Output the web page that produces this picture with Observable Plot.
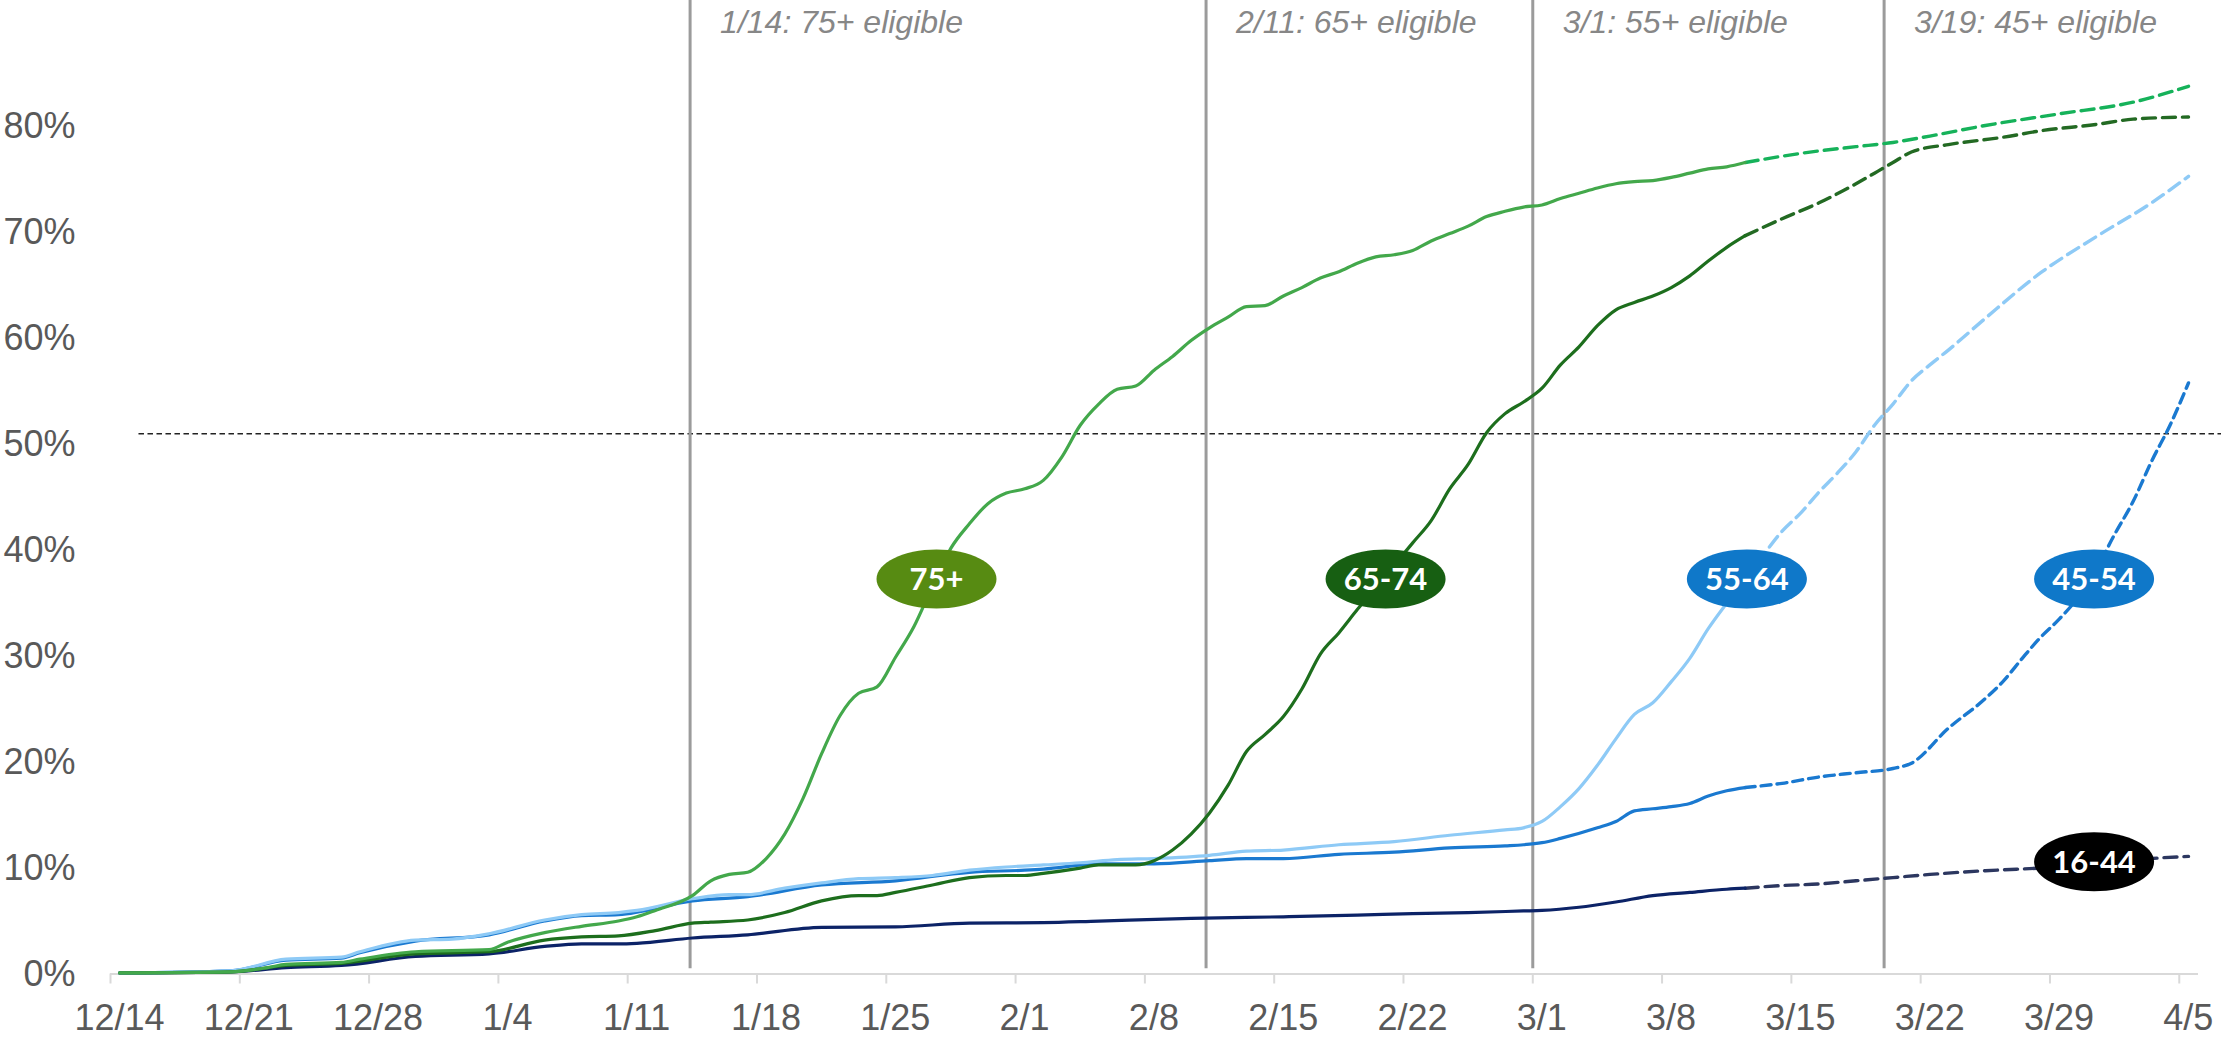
<!DOCTYPE html>
<html>
<head>
<meta charset="utf-8">
<script src="https://cdn.jsdelivr.net/npm/d3@7"></script>
<script src="https://cdn.jsdelivr.net/npm/@observablehq/plot@0.6"></script>
<style>
  html, body { margin: 0; padding: 0; background: #ffffff; }
  #chart svg { display: block; }
</style>
</head>
<body>
<div id="chart"></div>
<script>
// ---------- DATA (percent of age group with at least one dose) ----------
const xTickLabels = ["12/14","12/21","12/28","1/4","1/11","1/18","1/25","2/1","2/8","2/15","2/22","3/1","3/8","3/15","3/22","3/29","4/5"];
const yTickValues = [0, 10, 20, 30, 40, 50, 60, 70, 80];

const seriesNames  = ["75+", "65-74", "55-64", "45-54", "16-44"];

const actual75 = [["12/14",0.1],["12/20",0.2],["12/22",0.6],["12/23",0.9],["12/26",1.1],["12/27",1.4],["12/30",2.1],["1/3",2.3],["1/4",3.0],["1/6",3.9],["1/8",4.5],["1/10",5.0],["1/11",5.4],["1/12",6.0],["1/14",7.4],["1/15",8.8],["1/16",9.4],["1/17",9.6],["1/18",10.9],["1/19",13.2],["1/20",16.6],["1/21",20.8],["1/22",24.4],["1/23",26.5],["1/24",27.1],["1/25",29.9],["1/26",32.8],["1/27",36.6],["1/28",40.2],["1/29",42.5],["1/30",44.4],["1/31",45.4],["2/1",45.8],["2/2",46.6],["2/3",48.8],["2/4",51.8],["2/5",53.8],["2/6",55.2],["2/7",55.5],["2/8",57.0],["2/9",58.3],["2/10",59.8],["2/11",61.0],["2/12",62.0],["2/13",63.0],["2/14",63.1],["2/15",64.0],["2/16",64.8],["2/17",65.7],["2/18",66.3],["2/19",67.1],["2/20",67.7],["2/21",67.9],["2/22",68.3],["2/23",69.2],["2/24",69.9],["2/25",70.6],["2/26",71.5],["2/27",72.0],["2/28",72.4],["3/1",72.6],["3/2",73.2],["3/3",73.7],["3/4",74.2],["3/5",74.6],["3/6",74.8],["3/7",74.9],["3/8",75.2],["3/9",75.6],["3/10",76.0],["3/11",76.2],["3/12",76.6]];
const proj75 = [["3/12",76.6],["3/14",77.2],["3/16",77.7],["3/18",78.1],["3/20",78.5],["3/22",79.1],["3/25",80.1],["3/29",81.2],["4/2",82.3],["4/5",83.8]];

const actual65 = [["12/14",0.1],["12/20",0.2],["12/23",0.8],["12/26",1.0],["12/30",1.9],["1/3",2.1],["1/6",3.2],["1/8",3.5],["1/10",3.6],["1/12",4.1],["1/14",4.8],["1/15",4.9],["1/17",5.1],["1/19",5.8],["1/21",6.9],["1/23",7.4],["1/24",7.4],["1/25",7.7],["1/27",8.4],["1/29",9.1],["1/31",9.3],["2/1",9.3],["2/2",9.5],["2/4",10.0],["2/5",10.3],["2/7",10.3],["2/8",10.7],["2/9",11.7],["2/10",13.2],["2/11",15.2],["2/12",17.8],["2/13",21.0],["2/14",22.6],["2/15",24.3],["2/16",26.9],["2/17",30.2],["2/18",32.2],["2/19",34.4],["2/20",36.5],["2/21",38.6],["2/22",40.7],["2/23",42.8],["2/24",45.8],["2/25",48.1],["2/26",51.1],["2/27",52.9],["2/28",54.0],["3/1",55.3],["3/2",57.5],["3/3",59.2],["3/4",61.2],["3/5",62.7],["3/6",63.4],["3/7",64.0],["3/8",64.8],["3/9",65.9],["3/10",67.3],["3/11",68.6],["3/12",69.7]];
const proj65 = [["3/12",69.7],["3/14",71.3],["3/16",72.8],["3/18",74.6],["3/19",75.6],["3/20",76.6],["3/21",77.6],["3/23",78.3],["3/26",79.0],["3/28",79.6],["3/31",80.2],["4/2",80.7],["4/5",80.9]];

const actual55 = [["12/14",0.1],["12/20",0.3],["12/23",1.4],["12/26",1.6],["12/27",2.1],["12/30",3.2],["1/1",3.3],["1/3",3.8],["1/6",5.1],["1/8",5.6],["1/10",5.8],["1/11",6.0],["1/14",7.1],["1/16",7.5],["1/17",7.5],["1/19",8.1],["1/21",8.6],["1/23",9.0],["1/25",9.1],["1/27",9.3],["1/29",9.8],["1/31",10.1],["2/2",10.3],["2/4",10.5],["2/6",10.8],["2/8",10.9],["2/11",11.2],["2/13",11.6],["2/15",11.7],["2/18",12.2],["2/21",12.5],["2/24",13.1],["2/27",13.6],["2/28",13.8],["3/1",14.4],["3/2",15.8],["3/3",17.5],["3/4",19.7],["3/5",22.2],["3/6",24.5],["3/7",25.6],["3/8",27.6],["3/9",29.8],["3/10",32.6],["3/11",35.0],["3/12",37.3]];
const proj55 = [["3/12",37.3],["3/13",39.6],["3/14",41.8],["3/15",43.5],["3/16",45.5],["3/17",47.3],["3/18",49.3],["3/19",51.8],["3/20",53.8],["3/21",56.0],["3/22",57.5],["3/23",58.9],["3/25",61.9],["3/28",66.2],["3/31",69.6],["4/3",72.8],["4/5",75.3]];

const actual45 = [["12/14",0.1],["12/20",0.3],["12/23",1.3],["12/26",1.5],["12/27",2.0],["12/30",3.1],["1/3",3.7],["1/6",5.0],["1/8",5.5],["1/10",5.6],["1/14",6.9],["1/17",7.3],["1/21",8.4],["1/25",8.8],["1/29",9.6],["2/1",9.8],["2/2",9.9],["2/5",10.4],["2/8",10.4],["2/11",10.7],["2/13",10.9],["2/15",10.9],["2/18",11.3],["2/21",11.5],["2/24",11.9],["2/27",12.1],["2/28",12.2],["3/1",12.4],["3/2",12.8],["3/4",13.8],["3/5",14.4],["3/6",15.4],["3/7",15.6],["3/8",15.8],["3/9",16.1],["3/10",16.8],["3/11",17.3],["3/12",17.6]];
const proj45 = [["3/12",17.6],["3/14",18.0],["3/16",18.6],["3/18",19.0],["3/20",19.4],["3/21",19.9],["3/23",23.2],["3/25",26.0],["3/26",27.7],["3/27",29.8],["3/28",31.8],["3/29",33.5],["3/30",35.5],["3/31",38.2],["4/1",41.5],["4/2",44.6],["4/3",48.4],["4/4",51.8],["4/5",55.8]];

const actual16 = [["12/14",0.1],["12/20",0.2],["12/23",0.6],["12/26",0.8],["12/30",1.65],["1/3",1.9],["1/6",2.6],["1/8",2.85],["1/10",2.85],["1/11",2.9],["1/14",3.4],["1/17",3.7],["1/21",4.4],["1/25",4.45],["1/29",4.8],["2/2",4.85],["2/5",5.0],["2/10",5.25],["2/15",5.4],["2/19",5.55],["2/22",5.7],["2/25",5.8],["2/28",5.95],["3/1",6.0],["3/3",6.3],["3/5",6.8],["3/7",7.4],["3/9",7.7],["3/11",8.0],["3/12",8.1]];
const proj16 = [["3/12",8.1],["3/14",8.35],["3/16",8.5],["3/18",8.8],["3/20",9.1],["3/22",9.4],["3/25",9.75],["3/28",10.0],["3/31",10.3],["4/3",10.9],["4/5",11.1]];

// eligibility milestones (line positions as drawn in the picture)
const eventLabels    = ["1/14: 75+ eligible", "2/11: 65+ eligible", "3/1: 55+ eligible", "3/19: 45+ eligible"];
const eventLineTimes = ["2021-01-14T09:05Z", "2021-02-11T07:30Z", "2021-03-01T00:00Z", "2021-03-20T00:30Z"];

// reference line
const thresholdValue = 51;
const thresholdStart = "2020-12-15T13:00Z";

// series labels (ellipse badges)
const badgeTimes  = ["2021-01-27T17:15Z", "2021-02-21T00:45Z", "2021-03-12T14:10Z", "2021-03-31T09:20Z", "2021-03-31T09:20Z"];
const badgeValues = [37.3, 37.3, 37.3, 37.3, 10.6];

// ---------- STYLE ----------
const lineColors = {"75+": "#43a84b", "65-74": "#1d6e1d", "55-64": "#8ecaf6", "45-54": "#1a79d0", "16-44": "#0c2367"};
const projColors = {"75+": "#16b25a", "65-74": "#236a23", "55-64": "#8ecaf6", "45-54": "#1a79d0", "16-44": "#2c3760"};
const badgeColors = {"75+": "#578b12", "65-74": "#175f12", "55-64": "#0f78c9", "45-54": "#0f78c9", "16-44": "#000000"};

// ---------- BUILD ----------
const parseMD = s => { const [m, d] = s.split("/").map(Number); return new Date(Date.UTC(m === 12 ? 2020 : 2021, m - 1, d)); };
const HALF_DAY = 12 * 3600 * 1000;
const toRows = (pairs, series) => pairs.map(([md, v]) => ({date: parseMD(md), value: v, series}));
const px = d => new Date(+d.date + HALF_DAY); // points sit in the middle of their day

const actualSets = {"75+": actual75, "65-74": actual65, "55-64": actual55, "45-54": actual45, "16-44": actual16};
const projSets   = {"75+": proj75,   "65-74": proj65,   "55-64": proj55,   "45-54": proj45,   "16-44": proj16};

const drawOrder = ["16-44", "45-54", "55-64", "65-74", "75+"];
const lineMarks = [];
for (const s of drawOrder) {
  lineMarks.push(Plot.line(toRows(projSets[s], s), {
    x: px, y: "value", stroke: projColors[s], strokeWidth: 3.4,
    strokeDasharray: s === "45-54" ? "10,6" : "13,7", curve: "monotone-x"
  }));
  lineMarks.push(Plot.line(toRows(actualSets[s], s), {
    x: px, y: "value", stroke: lineColors[s], strokeWidth: 3.2, curve: "monotone-x"
  }));
}

const events = eventLabels.map((label, i) => ({label, t: new Date(eventLineTimes[i])}));
const badges = seriesNames.map((name, i) => ({name, t: new Date(badgeTimes[i]), v: badgeValues[i], color: badgeColors[name]}));

const ellipse = {
  draw(ctx) {
    const rx = 60, ry = 29.5, k = 0.5523;
    ctx.moveTo(rx, 0);
    ctx.bezierCurveTo(rx, ry * k, rx * k, ry, 0, ry);
    ctx.bezierCurveTo(-rx * k, ry, -rx, ry * k, -rx, 0);
    ctx.bezierCurveTo(-rx, -ry * k, -rx * k, -ry, 0, -ry);
    ctx.bezierCurveTo(rx * k, -ry, rx, -ry * k, rx, 0);
    ctx.closePath();
  }
};

const xTicks = xTickLabels.map(parseMD);
const fmtMD = d => `${d.getUTCMonth() + 1}/${d.getUTCDate()}`;
const yTop = 91.9;

const chart = Plot.plot({
  width: 2221,
  height: 1038,
  marginLeft: 110,
  marginRight: 23,
  marginTop: 0,
  marginBottom: 64.5,
  style: {background: "#ffffff", fontFamily: "'Liberation Sans', Arial, sans-serif", overflow: "hidden"},
  x: {type: "utc", label: null, domain: [new Date(Date.UTC(2020, 11, 14)), new Date(Date.UTC(2021, 3, 6, 1))]},
  y: {label: null, domain: [0, yTop]},
  marks: [
    // y axis labels
    Plot.axisY({ticks: yTickValues, tickSize: 0, tickPadding: 35, tickFormat: d => d + "%", fontSize: 36, fill: "#595959", stroke: "none", label: null}),
    // x axis ticks and labels
    Plot.axisX({ticks: xTicks, tickSize: 10, stroke: "#d9d9d9", strokeWidth: 2, fill: "none", label: null}),
    Plot.axisX({ticks: xTicks, tickSize: 0, tickPadding: 30, dx: 9, tickFormat: fmtMD, fontSize: 36, fill: "#595959", stroke: "none", label: null}),
    Plot.ruleY([0], {stroke: "#d9d9d9", strokeWidth: 2}),
    // threshold line
    Plot.ruleY([thresholdValue], {x1: new Date(thresholdStart), x2: new Date(Date.UTC(2021, 3, 9)), stroke: "#222222", strokeWidth: 1.7, strokeDasharray: "5.5,3.5"}),
    // eligibility lines + labels
    Plot.ruleX(events, {x: "t", y1: 0.5, y2: yTop, stroke: "#9b9b9b", strokeWidth: 3}),
    Plot.text(events, {x: "t", text: "label", frameAnchor: "top", dy: 10, dx: 30, textAnchor: "start", fill: "#878787", fontSize: 32, fontStyle: "italic"}),
    // series
    ...lineMarks,
    // badges
    Plot.dot(badges, {x: "t", y: "v", symbol: ellipse, r: 30, fill: "color", stroke: "none"}),
    Plot.text(badges, {x: "t", y: "v", text: "name", fill: "#ffffff", fontSize: 31, fontWeight: "bold", fontFamily: "Lato, 'Liberation Sans', sans-serif", dy: 1})
  ]
});

document.getElementById("chart").appendChild(chart);
</script>
</body>
</html>
